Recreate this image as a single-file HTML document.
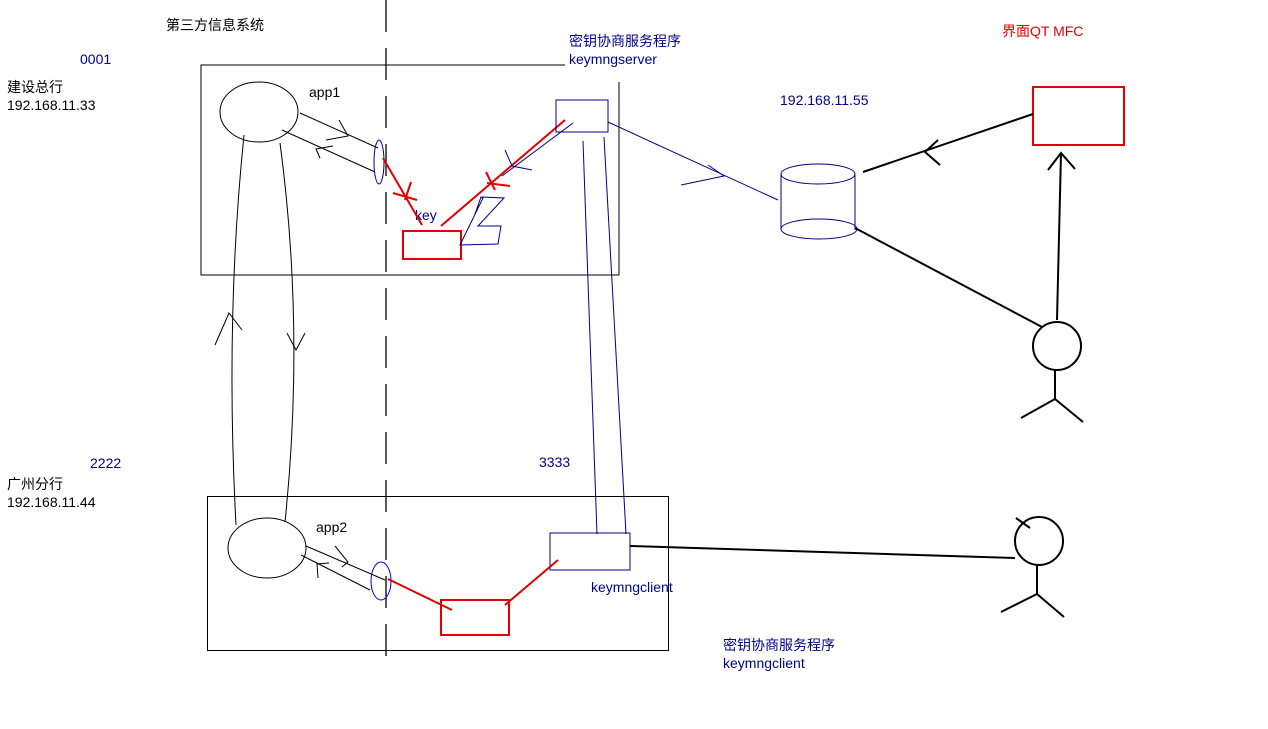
<!DOCTYPE html>
<html><head><meta charset="utf-8"><style>
html,body{margin:0;padding:0;background:#fff;}
svg{display:block;}
text{font-family:"Liberation Sans","Noto Sans CJK SC",sans-serif;font-size:14px;}
</style></head><body>
<svg width="1268" height="729" viewBox="0 0 1268 729" xmlns="http://www.w3.org/2000/svg">
<rect width="1268" height="729" fill="#fff"/>
<!-- dashed divider -->
<line x1="386" y1="0" x2="386" y2="665" stroke="#000" stroke-width="1.3" stroke-dasharray="32,16"/>
<!-- top box -->
<polyline points="565,65 201,65 201,275 619,275 619,82" fill="none" stroke="#000" stroke-width="1"/>
<!-- bottom box -->
<rect x="207.5" y="496.5" width="461" height="154" fill="none" stroke="#000" stroke-width="1"/>
<!-- texts -->
<text x="166" y="30" fill="#000">第三方信息系统</text>
<text x="80" y="64" fill="#00008b">0001</text>
<text x="7" y="92" fill="#000">建设总行</text>
<text x="7" y="110" fill="#000">192.168.11.33</text>
<text x="90" y="468" fill="#00008b">2222</text>
<text x="7" y="489" fill="#000">广州分行</text>
<text x="7" y="507" fill="#000">192.168.11.44</text>
<text x="569" y="46" fill="#00008b">密钥协商服务程序</text>
<text x="569" y="64" fill="#00008b">keymngserver</text>
<text x="1002" y="36" fill="#e00000">界面QT MFC</text>
<text x="780" y="105" fill="#00008b">192.168.11.55</text>
<text x="309" y="97" fill="#000">app1</text>
<text x="415" y="220" fill="#00008b">key</text>
<text x="539" y="467" fill="#00008b">3333</text>
<text x="316" y="532" fill="#000">app2</text>
<text x="591" y="592" fill="#00008b">keymngclient</text>
<text x="723" y="650" fill="#00008b">密钥协商服务程序</text>
<text x="723" y="668" fill="#00008b">keymngclient</text>
<!-- app1 -->
<ellipse cx="259" cy="112" rx="39" ry="30" fill="none" stroke="#000"/>
<line x1="300" y1="113" x2="378" y2="148" stroke="#000"/>
<line x1="282" y1="130" x2="375" y2="172" stroke="#000"/>
<polyline points="339,120 348,136 326,140" fill="none" stroke="#000"/>
<polyline points="333,146 316,149 320,158" fill="none" stroke="#000"/>
<ellipse cx="379" cy="162" rx="5" ry="22" fill="none" stroke="#00008b"/>
<!-- links app1-app2 -->
<path d="M244,135 Q225,320 236,525" fill="none" stroke="#000"/>
<path d="M280,143 Q305,330 285,522" fill="none" stroke="#000"/>
<polyline points="215,345 229,313 242,330" fill="none" stroke="#000"/>
<polyline points="287,333 296,350 305,333" fill="none" stroke="#000"/>
<!-- key box -->
<rect x="403" y="231" width="58" height="28" fill="none" stroke="#e00000" stroke-width="2"/>
<line x1="383" y1="158" x2="422" y2="225" stroke="#e00000" stroke-width="2"/>
<line x1="393" y1="193" x2="417" y2="200" stroke="#e00000" stroke-width="2"/>
<line x1="411" y1="182" x2="405" y2="200" stroke="#e00000" stroke-width="2"/>
<line x1="441" y1="226" x2="565" y2="120" stroke="#e00000" stroke-width="2"/>
<line x1="487" y1="183" x2="510" y2="186" stroke="#e00000" stroke-width="2"/>
<line x1="486" y1="172" x2="495" y2="190" stroke="#e00000" stroke-width="2"/>
<line x1="502" y1="176" x2="573" y2="123" stroke="#00008b"/>
<polyline points="505,150 512,166 532,170" fill="none" stroke="#00008b"/>
<polyline points="475,214 481,197 483,198 460,245 498,244 501,226 478,226 504,198 482,197" fill="none" stroke="#00008b"/>
<!-- keymngserver box -->
<rect x="556" y="100" width="52" height="32" fill="none" stroke="#00008b"/>
<line x1="583" y1="141" x2="597" y2="534" stroke="#00008b"/>
<line x1="604" y1="137" x2="626" y2="534" stroke="#00008b"/>
<line x1="608" y1="122" x2="778" y2="200" stroke="#00008b"/>
<polyline points="681,185 724,176 708,165" fill="none" stroke="#00008b"/>
<!-- db cylinder -->
<ellipse cx="818" cy="174" rx="37" ry="10" fill="none" stroke="#00008b"/>
<line x1="781" y1="175" x2="781" y2="230" stroke="#00008b"/>
<line x1="855" y1="175" x2="855" y2="230" stroke="#00008b"/>
<ellipse cx="819" cy="229" rx="38" ry="10" fill="none" stroke="#00008b"/>
<!-- QT box -->
<rect x="1033" y="87" width="91" height="58" fill="none" stroke="#e00000" stroke-width="2"/>
<line x1="863" y1="172" x2="1033" y2="114" stroke="#000" stroke-width="2"/>
<polyline points="938,140 925,152 940,165" fill="none" stroke="#000" stroke-width="2"/>
<line x1="1057" y1="320" x2="1061" y2="153" stroke="#000" stroke-width="2"/>
<polyline points="1048,170 1061,153 1075,169" fill="none" stroke="#000" stroke-width="2"/>
<line x1="855" y1="228" x2="1042" y2="327" stroke="#000" stroke-width="2"/>
<!-- person 1 -->
<circle cx="1057" cy="346" r="24" fill="none" stroke="#000" stroke-width="2"/>
<line x1="1055" y1="370" x2="1055" y2="399" stroke="#000" stroke-width="2"/>
<line x1="1021" y1="418" x2="1055" y2="399" stroke="#000" stroke-width="2"/>
<line x1="1055" y1="399" x2="1083" y2="422" stroke="#000" stroke-width="2"/>
<!-- keymngclient box -->
<rect x="550" y="533" width="80" height="37" fill="none" stroke="#00008b"/>
<line x1="630" y1="546" x2="1015" y2="558" stroke="#000" stroke-width="2"/>
<!-- person 2 -->
<circle cx="1039" cy="541" r="24" fill="none" stroke="#000" stroke-width="2"/>
<line x1="1016" y1="518" x2="1030" y2="528" stroke="#000" stroke-width="2"/>
<line x1="1037" y1="565" x2="1037" y2="594" stroke="#000" stroke-width="2"/>
<line x1="1001" y1="612" x2="1037" y2="594" stroke="#000" stroke-width="2"/>
<line x1="1037" y1="594" x2="1064" y2="617" stroke="#000" stroke-width="2"/>
<!-- app2 -->
<ellipse cx="267" cy="548" rx="39" ry="30" fill="none" stroke="#000"/>
<line x1="306" y1="546" x2="385" y2="580" stroke="#000"/>
<line x1="301" y1="555" x2="370" y2="590" stroke="#000"/>
<polyline points="335,546 348,562 342,567" fill="none" stroke="#000"/>
<polyline points="329,563 317,564 318,578" fill="none" stroke="#000"/>
<ellipse cx="381" cy="581" rx="10" ry="19" fill="none" stroke="#0000e0"/>
<rect x="441" y="600" width="68" height="35" fill="none" stroke="#e00000" stroke-width="2"/>
<line x1="388" y1="579" x2="452" y2="610" stroke="#e00000" stroke-width="2"/>
<line x1="505" y1="605" x2="558" y2="560" stroke="#e00000" stroke-width="2"/>
</svg>
</body></html>
